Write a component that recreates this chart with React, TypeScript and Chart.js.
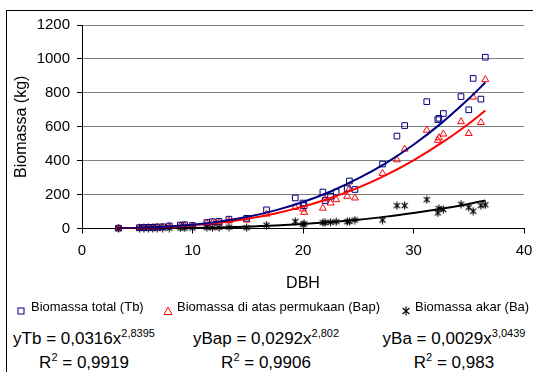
import React, { useEffect, useRef } from "react";
import { Chart, registerables } from "chart.js";

Chart.register(...registerables);

// Diameter at breast height (cm) of each sampled tree
const dbh = [3.3, 5.2, 5.6, 6.0, 6.4, 6.8, 7.3, 7.9, 8.9, 9.3, 10.0, 11.3, 11.8, 12.4, 13.3, 14.9, 16.7, 19.3, 20.0, 20.1, 21.8, 22.0, 22.5, 23.0, 24.0, 24.2, 24.7, 27.2, 28.5, 29.2, 31.2, 32.2, 32.3, 32.7, 34.3, 35.0, 35.4, 36.1, 36.5];
// Biomassa total (Tb)
const tb = [2, 5, 6, 7, 7, 9, 10, 15, 20, 22, 18, 35, 40, 42, 55, 60, 110, 180, 150, 135, 215, 165, 190, 215, 235, 280, 230, 380, 545, 607, 748, 642, 650, 678, 778, 700, 885, 763, 1010];
// Biomassa di atas permukaan (Bap)
const bap = [2, 4, 5, 6, 6, 8, 9, 12, 16, 18, 15, 30, 34, 36, 45, 50, 85, 125, 115, 95, 120, 175, 150, 170, 190, 235, 180, 325, 405, 468, 580, 520, 535, 557, 630, 560, 775, 625, 878];
// Biomassa akar (Ba)
const ba = [0, 1, 1, 1, 1, 1, 2, 2, 3, 3, 3, 5, 5, 6, 8, 5, 20, 42, 25, 28, 35, 35, 37, 40, 40, 42, 50, 50, 135, 135, 170, 92, 118, 112, 143, 125, 102, 135, 140];

// Power trend lines as drawn in the chart
const trendDbh = [3.3, 5, 7.5, 10, 12.5, 15, 17.5, 20, 22.5, 25, 27.5, 30, 32.5, 35, 36.5];
const trendTb = [0.9, 3.1, 9.6, 21.8, 41, 69, 107, 156, 218, 295, 386, 494, 620, 765, 861];
const trendBap = [0.8, 2.7, 8.3, 18.5, 35, 58, 89, 129, 180, 241, 315, 402, 503, 618, 696];
const trendBa = [0.1, 0.4, 1.3, 3.2, 6.3, 11, 17.6, 26.5, 38, 52, 70, 91, 116, 145, 165];

const seriesLabels = ["Biomassa total (Tb)", "Biomassa di atas permukaan (Bap)", "Biomassa akar (Ba)"];
const xTicks = { min: 0, max: 40, step: 10 };
const yTicks = { min: 0, max: 1200, step: 200 };
const equations = [
  { name: "yTb", a: "0,0316", b: "2,8395", r2: "0,9919" },
  { name: "yBap", a: "0,0292", b: "2,802", r2: "0,9906" },
  { name: "yBa", a: "0,0029", b: "3,0439", r2: "0,983" },
];

const BLUE = "#000080";
const RED = "#ff0000";
const BLACK = "#000000";
const FONT = '"Liberation Sans", Arial, sans-serif';

function pts(xs: number[], ys: number[]) {
  return xs.map((x, i) => ({ x, y: ys[i] }));
}

function makeAsterisk(): HTMLCanvasElement {
  const c = document.createElement("canvas");
  c.width = 9;
  c.height = 9;
  const ctx = c.getContext("2d")!;
  ctx.strokeStyle = "#000";
  ctx.lineWidth = 1.1;
  ctx.beginPath();
  ctx.moveTo(1.5, 2);
  ctx.lineTo(7.5, 7);
  ctx.moveTo(7.5, 2);
  ctx.lineTo(1.5, 7);
  ctx.moveTo(4.5, 0.5);
  ctx.lineTo(4.5, 8.5);
  ctx.stroke();
  return c;
}

export default function App() {
  const ref = useRef<HTMLCanvasElement>(null);

  useEffect(() => {
    const star = makeAsterisk();
    const chart = new Chart(ref.current!, {
      type: "scatter",
      data: {
        datasets: [
          {
            label: "trend Tb",
            data: pts(trendDbh, trendTb),
            showLine: true,
            borderColor: BLUE,
            borderWidth: 2,
            pointRadius: 0,
            tension: 0.3,
            order: 0,
          },
          {
            label: "trend Bap",
            data: pts(trendDbh, trendBap),
            showLine: true,
            borderColor: RED,
            borderWidth: 2,
            pointRadius: 0,
            tension: 0.3,
            order: 0,
          },
          {
            label: "trend Ba",
            data: pts(trendDbh, trendBa),
            showLine: true,
            borderColor: BLACK,
            borderWidth: 2,
            pointRadius: 0,
            tension: 0.3,
            order: 0,
          },
          {
            label: seriesLabels[2],
            data: pts(dbh, ba),
            pointStyle: star as any,
            pointRadius: 4,
            order: 3,
            clip: false as any,
          },
          {
            label: seriesLabels[1],
            data: pts(dbh, bap),
            pointStyle: "triangle",
            pointRadius: 4,
            borderColor: RED,
            backgroundColor: "rgba(0,0,0,0)",
            borderWidth: 1,
            order: 2,
            clip: false as any,
          },
          {
            label: seriesLabels[0],
            data: pts(dbh, tb),
            pointStyle: "rect",
            pointRadius: 4,
            borderColor: BLUE,
            backgroundColor: "rgba(0,0,0,0)",
            borderWidth: 1,
            order: 1,
            clip: false as any,
          },
        ],
      },
      options: {
        responsive: false,
        animation: false,
        devicePixelRatio: 1,
        events: [],
        layout: { padding: { left: 0, right: 9, top: 25, bottom: 0 } },
        plugins: { legend: { display: false }, tooltip: { enabled: false } },
        scales: {
          x: {
            type: "linear",
            min: xTicks.min,
            max: xTicks.max,
            afterFit: (s: any) => {
              s.height = 71.5;
              s.paddingRight = 0;
              s.paddingLeft = 0;
            },
            ticks: {
              stepSize: xTicks.step,
              color: "#000",
              padding: 8,
              font: { family: FONT, size: 15 },
              callback: (v: any) => String(v),
            },
            grid: {
              drawOnChartArea: false,
              drawTicks: true,
              tickLength: 5,
              color: "#000",
            },
            border: { color: "#000", width: 1 },
            title: {
              display: true,
              text: "DBH",
              color: "#000",
              font: { family: FONT, size: 16 },
              padding: { top: 0, bottom: 7 },
            },
          },
          y: {
            type: "linear",
            min: yTicks.min,
            max: yTicks.max,
            afterFit: (s: any) => {
              s.width = 82;
            },
            ticks: {
              stepSize: yTicks.step,
              color: "#000",
              padding: 7,
              font: { family: FONT, size: 15 },
              callback: (v: any) => String(v),
            },
            grid: {
              color: "#808080",
              lineWidth: 1,
              tickLength: 5,
              tickColor: "#000",
            },
            border: { color: "#000", width: 1 },
            title: {
              display: true,
              text: "Biomassa (kg)",
              color: "#000",
              font: { family: FONT, size: 16 },
              padding: { top: 12, bottom: 0 },
            },
          },
        },
      },
    });
    return () => chart.destroy();
  }, []);

  const legendItem = (left: number, marker: React.ReactNode, text: string, textLeft: number) => (
    <>
      <div style={{ position: "absolute", left: left - 5, top: 302, width: 10, height: 10 }}>{marker}</div>
      <div style={{ position: "absolute", left: textLeft, top: 299, fontSize: 13, lineHeight: "16px", whiteSpace: "nowrap" }}>{text}</div>
    </>
  );

  const centers = [84, 266, 454];
  const supStyle: React.CSSProperties = { fontSize: 11, verticalAlign: "7px", lineHeight: 0 };

  return (
    <div
      style={{
        position: "fixed",
        left: 0,
        top: 0,
        width: 533,
        height: 372,
        background: "#fff",
        overflow: "hidden",
        fontFamily: FONT,
        color: "#000",
      }}
    >
      <div style={{ position: "absolute", left: 6, top: 10, width: 600, height: 400, borderLeft: "1px solid #000", borderTop: "1px solid #000" }} />
      <canvas ref={ref} width={533} height={300} style={{ position: "absolute", left: 0, top: 0 }} />
      {legendItem(
        21,
        <svg width="10" height="10"><rect x="2" y="2" width="6" height="6" fill="none" stroke={BLUE} strokeWidth="1" /></svg>,
        seriesLabels[0],
        31
      )}
      {legendItem(
        168,
        <svg width="10" height="10"><polygon points="5,1 9,8.5 1,8.5" fill="none" stroke={RED} strokeWidth="1" /></svg>,
        seriesLabels[1],
        177
      )}
      {legendItem(
        406,
        <svg width="10" height="10"><path d="M1.5,2 L8.5,8 M8.5,2 L1.5,8 M5,0.5 L5,9.5" stroke="#000" strokeWidth="1.1" /></svg>,
        seriesLabels[2],
        415
      )}
      {equations.map((e, i) => (
        <React.Fragment key={e.name}>
          <div
            style={{
              position: "absolute",
              left: centers[i],
              top: 329,
              transform: "translateX(-50%)",
              fontSize: 17,
              lineHeight: "20px",
              whiteSpace: "nowrap",
            }}
          >
            {e.name} = {e.a}x<sup style={supStyle}>{e.b}</sup>
          </div>
          <div
            style={{
              position: "absolute",
              left: centers[i],
              top: 353,
              transform: "translateX(-50%)",
              fontSize: 17,
              lineHeight: "20px",
              whiteSpace: "nowrap",
            }}
          >
            R<sup style={supStyle}>2</sup> = {e.r2}
          </div>
        </React.Fragment>
      ))}
    </div>
  );
}
